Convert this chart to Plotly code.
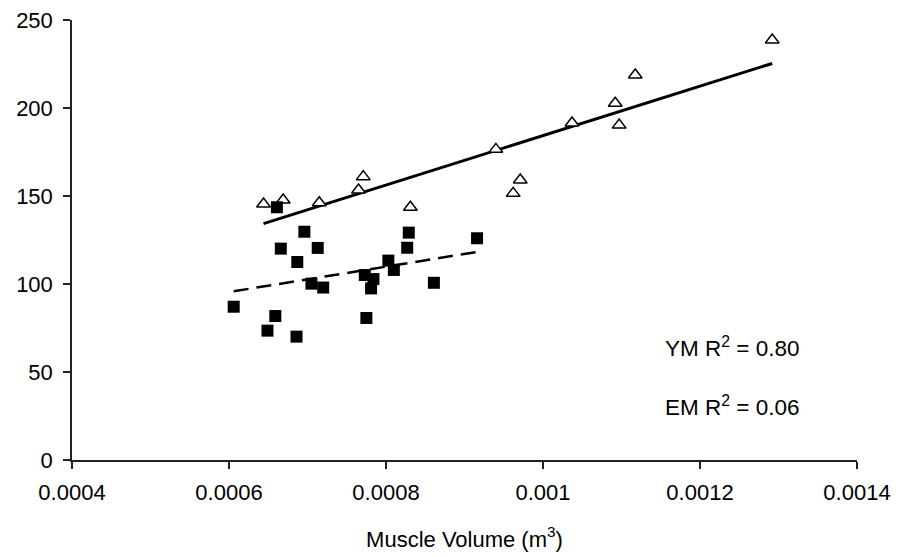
import numpy as np
import plotly.graph_objects as go

# YM (young men) - open triangles
ym_volume = [0.000644, 0.000669, 0.000715, 0.000765, 0.000771, 0.000831, 0.000940,
             0.000962, 0.000971, 0.001037, 0.001092, 0.001097, 0.0011175, 0.001292]
ym_force = [145.5, 147.7, 146.2, 153.4, 161.0, 143.6, 176.5,
            151.5, 159.1, 191.5, 202.7, 190.3, 218.75, 238.6]

# EM (elderly men) - filled squares
em_volume = [0.000606, 0.000649, 0.000659, 0.000661, 0.000666, 0.000686, 0.000687,
             0.000696, 0.000705, 0.000713, 0.000720, 0.000773, 0.000775, 0.000781,
             0.000784, 0.000803, 0.000810, 0.000827, 0.000829, 0.000861, 0.000916]
em_force = [87.1, 73.5, 81.8, 143.6, 120.1, 70.1, 112.5,
            129.7, 100.2, 120.5, 98.0, 105.1, 80.7, 97.5,
            102.8, 113.3, 108.0, 120.6, 129.2, 100.7, 126.0]

x_ticks = [0.0004, 0.0006, 0.0008, 0.001, 0.0012, 0.0014]
x_ticktext = ["0.0004", "0.0006", "0.0008", "0.001", "0.0012", "0.0014"]
y_ticks = [0, 50, 100, 150, 200, 250]
y_ticktext = ["0", "50", "100", "150", "200", "250"]

FONT = "Liberation Sans, Arial, sans-serif"

def fit_line(xs, ys):
    xs = np.array(xs); ys = np.array(ys)
    m, b = np.polyfit(xs, ys, 1)
    xx = np.array([xs.min(), xs.max()])
    return xx, m * xx + b

fig = go.Figure()

yx, yy = fit_line(ym_volume, ym_force)
ex, ey = fit_line(em_volume, em_force)

fig.add_trace(go.Scatter(x=yx, y=yy, mode="lines",
                         line=dict(color="black", width=3), showlegend=False, hoverinfo="skip"))
fig.add_trace(go.Scatter(x=ex, y=ey, mode="lines",
                         line=dict(color="black", width=2.5, dash="15px,8px"), showlegend=False, hoverinfo="skip"))

fig.add_trace(go.Scatter(x=ym_volume, y=ym_force, mode="markers", name="YM",
                         marker=dict(symbol="triangle-up", size=12, color="white",
                                     line=dict(color="black", width=1.5)),
                         showlegend=False))
fig.add_trace(go.Scatter(x=em_volume, y=em_force, mode="markers", name="EM",
                         marker=dict(symbol="square", size=12, color="black",
                                     line=dict(color="black", width=0)),
                         showlegend=False))

fig.add_annotation(x=0.001241, y=64.2, xref="x", yref="y",
                   text="YM R<sup>2</sup> = 0.80", showarrow=False,
                   font=dict(family=FONT, size=22.5, color="black"))
fig.add_annotation(x=0.001241, y=30.7, xref="x", yref="y",
                   text="EM R<sup>2</sup> = 0.06", showarrow=False,
                   font=dict(family=FONT, size=22.5, color="black"))

fig.update_layout(
    width=906, height=557,
    margin=dict(l=64, r=57, t=12, b=105),
    paper_bgcolor="white", plot_bgcolor="white",
    font=dict(family=FONT, size=22, color="black"),
    xaxis=dict(range=[0.0004, 0.0014], tickvals=x_ticks, ticktext=x_ticktext,
               showgrid=False, zeroline=False, showline=True, linecolor="#222",
               linewidth=1.5, ticks="outside", ticklen=7, tickcolor="#222", tickwidth=1.5,
               ticklabelstandoff=5, automargin=False, ticklabeloverflow="allow",
               tickfont=dict(family=FONT, size=22),
               title=dict(text="Muscle Volume (m<sup>3</sup>)", standoff=27,
                          font=dict(family=FONT, size=22))),
    yaxis=dict(range=[0, 250.01], tickvals=y_ticks, ticktext=y_ticktext,
               showgrid=False, zeroline=False, showline=True, linecolor="#222",
               linewidth=1.5, ticks="outside", ticklen=7, tickcolor="#222", tickwidth=1.5,
               ticklabelstandoff=6, automargin=False, ticklabeloverflow="allow",
               tickfont=dict(family=FONT, size=22)),
)

fig.write_html("out.html")
